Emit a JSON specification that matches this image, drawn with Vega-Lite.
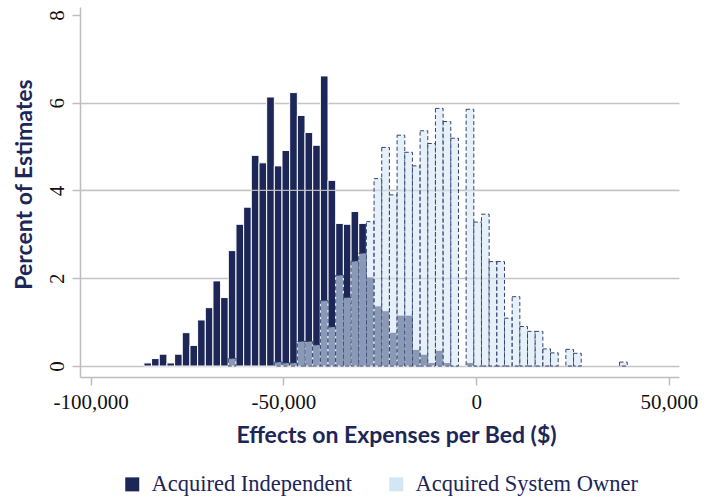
{
  "$schema": "https://vega.github.io/schema/vega-lite/v6.json",
  "width": 599,
  "height": 370,
  "autosize": {"type": "none"},
  "padding": {"left": 80, "top": 7, "right": 33, "bottom": 121},
  "background": "white",
  "config": {
    "view": {"stroke": null},
    "axis": {
      "domainColor": "#bdbdbd",
      "domainWidth": 1.5,
      "tickColor": "#bdbdbd",
      "tickWidth": 1.5,
      "tickSize": 8,
      "labelFont": "Liberation Serif",
      "labelFontSize": 21,
      "labelColor": "#111111",
      "titleFont": "Lato",
      "titleFontWeight": "bold",
      "titleFontSize": 23,
      "titleColor": "#1c2657"
    },
    "axisY": {
      "labelAngle": -90,
      "labelAlign": "center",
      "labelBaseline": "bottom",
      "labelPadding": 5,
      "titlePadding": 10,
      "titleY": 177,
      "titleAlign": "center",
      "grid": true,
      "gridColor": "#c4c4c4",
      "gridWidth": 1.5
    },
    "axisX": {
      "grid": false,
      "labelPadding": 6,
      "titlePadding": 12,
      "titleX": 316,
      "titleAlign": "center"
    },
    "legend": {
      "orient": "none",
      "legendX": 41,
      "legendY": 466,
      "direction": "horizontal",
      "symbolType": "square",
      "symbolSize": 196,
      "symbolStrokeWidth": 0,
      "symbolOpacity": 1,
      "labelFont": "Liberation Serif",
      "labelFontSize": 22.5,
      "labelColor": "#1c2657",
      "labelLimit": 0,
      "labelOffset": 8,
      "columnPadding": 32
    }
  },
  "data": {
    "values": [
      {"lo": -86200, "hi": -84210, "indep": 0.07, "system": 0},
      {"lo": -84210, "hi": -82220, "indep": 0.17, "system": 0},
      {"lo": -82220, "hi": -80230, "indep": 0.27, "system": 0},
      {"lo": -80230, "hi": -78240, "indep": 0.07, "system": 0},
      {"lo": -78240, "hi": -76250, "indep": 0.27, "system": 0},
      {"lo": -76250, "hi": -74260, "indep": 0.76, "system": 0},
      {"lo": -74260, "hi": -72270, "indep": 0.47, "system": 0},
      {"lo": -72270, "hi": -70280, "indep": 1.05, "system": 0},
      {"lo": -70280, "hi": -68290, "indep": 1.33, "system": 0},
      {"lo": -68290, "hi": -66300, "indep": 1.94, "system": 0},
      {"lo": -66300, "hi": -64310, "indep": 1.56, "system": 0},
      {"lo": -64310, "hi": -62320, "indep": 2.63, "system": 0.17},
      {"lo": -62320, "hi": -60330, "indep": 3.23, "system": 0},
      {"lo": -60330, "hi": -58340, "indep": 3.62, "system": 0},
      {"lo": -58340, "hi": -56350, "indep": 4.80, "system": 0},
      {"lo": -56350, "hi": -54360, "indep": 4.63, "system": 0},
      {"lo": -54360, "hi": -52370, "indep": 6.13, "system": 0},
      {"lo": -52370, "hi": -50380, "indep": 4.56, "system": 0.09},
      {"lo": -50380, "hi": -48390, "indep": 4.91, "system": 0.07},
      {"lo": -48390, "hi": -46400, "indep": 6.23, "system": 0.07},
      {"lo": -46400, "hi": -44410, "indep": 5.71, "system": 0.56},
      {"lo": -44410, "hi": -42420, "indep": 5.32, "system": 0.56},
      {"lo": -42420, "hi": -40430, "indep": 5.03, "system": 0.48},
      {"lo": -40430, "hi": -38440, "indep": 6.61, "system": 1.49},
      {"lo": -38440, "hi": -36450, "indep": 4.23, "system": 0.89},
      {"lo": -36450, "hi": -34460, "indep": 3.25, "system": 2.07},
      {"lo": -34460, "hi": -32470, "indep": 3.23, "system": 1.56},
      {"lo": -32470, "hi": -30480, "indep": 3.52, "system": 2.39},
      {"lo": -30480, "hi": -28490, "indep": 3.25, "system": 2.57},
      {"lo": -28490, "hi": -26500, "indep": 2.03, "system": 3.29},
      {"lo": -26500, "hi": -24510, "indep": 1.37, "system": 4.27},
      {"lo": -24510, "hi": -22520, "indep": 1.26, "system": 4.98},
      {"lo": -22520, "hi": -20530, "indep": 0.77, "system": 3.90},
      {"lo": -20530, "hi": -18540, "indep": 1.16, "system": 5.26},
      {"lo": -18540, "hi": -16550, "indep": 1.16, "system": 4.87},
      {"lo": -16550, "hi": -14560, "indep": 0.38, "system": 4.56},
      {"lo": -14560, "hi": -12570, "indep": 0.27, "system": 5.36},
      {"lo": -12570, "hi": -10580, "indep": 0.08, "system": 5.07},
      {"lo": -10580, "hi": -8590, "indep": 0.36, "system": 5.87},
      {"lo": -8590, "hi": -6600, "indep": 0.08, "system": 5.57},
      {"lo": -6600, "hi": -4610, "indep": 0, "system": 5.19},
      {"lo": -4610, "hi": -2620, "indep": 0, "system": 0},
      {"lo": -2620, "hi": -630, "indep": 0.08, "system": 5.85},
      {"lo": -630, "hi": 1360, "indep": 0, "system": 3.28},
      {"lo": 1360, "hi": 3350, "indep": 0, "system": 3.46},
      {"lo": 3350, "hi": 5340, "indep": 0, "system": 2.38},
      {"lo": 5340, "hi": 7330, "indep": 0, "system": 2.38},
      {"lo": 7330, "hi": 9320, "indep": 0, "system": 1.09},
      {"lo": 9320, "hi": 11310, "indep": 0, "system": 1.58},
      {"lo": 11310, "hi": 13300, "indep": 0, "system": 0.90},
      {"lo": 13300, "hi": 15290, "indep": 0, "system": 0.79},
      {"lo": 15290, "hi": 17280, "indep": 0, "system": 0.79},
      {"lo": 17280, "hi": 19270, "indep": 0, "system": 0.39},
      {"lo": 19270, "hi": 21260, "indep": 0, "system": 0.30},
      {"lo": 21260, "hi": 23250, "indep": 0, "system": 0},
      {"lo": 23250, "hi": 25240, "indep": 0, "system": 0.38},
      {"lo": 25240, "hi": 27230, "indep": 0, "system": 0.29},
      {"lo": 37180, "hi": 39170, "indep": 0, "system": 0.09}
    ]
  },
  "layer": [
    {
      "transform": [{"filter": "datum.indep > 0"}],
      "mark": {"type": "bar", "stroke": "#ffffff", "strokeWidth": 1},
      "encoding": {
        "x": {
          "field": "lo", "type": "quantitative", "title": "Effects on Expenses per Bed ($)",
          "scale": {"domain": [-102776, 52594], "nice": false, "zero": false},
          "axis": {"values": [-100000, -50000, 0, 50000], "format": ",d", "labelExpr": "replace(datum.label, '\u2212', '-')"}
        },
        "x2": {"field": "hi"},
        "y": {
          "field": "indep", "type": "quantitative", "title": "Percent of Estimates",
          "scale": {"domain": [-0.25, 8.18], "nice": false, "zero": false},
          "axis": {"values": [0, 2, 4, 6, 8], "gridOpacity": {"condition": {"test": "datum.value == 8", "value": 0}, "value": 1}}
        },
        "y2": {"datum": 0},
        "fill": {
          "datum": "Acquired Independent",
          "type": "nominal",
          "scale": {"domain": ["Acquired Independent", "Acquired System Owner"], "range": ["#1c2657", "#d3e6f5"]},
          "legend": {"title": null}
        }
      }
    },
    {
      "data": {"values": [{"level": 4}]},
      "mark": {"type": "rule", "color": "#c4c4c4", "strokeWidth": 1.2, "opacity": 0.9},
      "encoding": {
        "y": {"field": "level", "type": "quantitative", "title": "Percent of Estimates"}
      }
    },
    {
      "transform": [{"filter": "datum.system > 0"}],
      "mark": {"type": "bar", "fillOpacity": 0.6, "stroke": "#34426f", "strokeWidth": 1, "strokeDash": [4, 2.5]},
      "encoding": {
        "x": {"field": "lo", "type": "quantitative", "title": "Effects on Expenses per Bed ($)"},
        "x2": {"field": "hi"},
        "y": {"field": "system", "type": "quantitative", "title": "Percent of Estimates"},
        "y2": {"datum": 0},
        "fill": {"datum": "Acquired System Owner", "type": "nominal"}
      }
    }
  ]
}
